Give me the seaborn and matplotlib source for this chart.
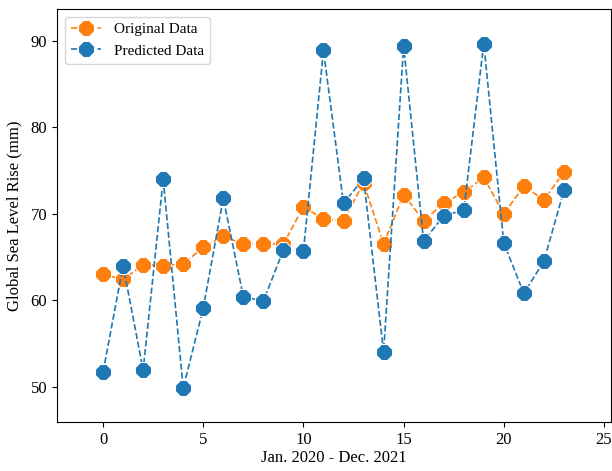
import matplotlib
matplotlib.use("Agg")
import matplotlib.pyplot as plt
import seaborn as sns
import numpy as np

months = list(range(24))
original = [63.0, 62.4, 64.1, 64.0, 64.2, 66.1, 67.4, 66.5, 66.5, 66.5,
            70.8, 69.4, 69.2, 73.6, 66.5, 72.2, 69.2, 71.2, 72.5, 74.2,
            70.0, 73.2, 71.6, 74.8]
predicted = [51.7, 64.0, 51.9, 74.0, 49.8, 59.1, 71.8, 60.4, 59.9, 65.8,
             65.7, 88.9, 71.2, 74.1, 54.0, 89.4, 66.8, 69.8, 70.4, 89.7,
             66.6, 60.8, 64.5, 72.7]

plt.rcParams['font.family'] = ['Liberation Serif', 'DejaVu Serif']
plt.rcParams['font.size'] = 12

fig = plt.figure(figsize=(6.12, 4.71), dpi=100)
ax = fig.add_axes([57/612, 1-422/471, (611-57)/612, (422-9)/471])

sns.lineplot(x=months, y=original, ax=ax, color='#ff7f0e', marker='8',
             markersize=12, linestyle='--', linewidth=1.2, label='Original Data')
sns.lineplot(x=months, y=predicted, ax=ax, color='#1f77b4', marker='8',
             markersize=12, linestyle='--', linewidth=1.2, label='Predicted Data')

ax.set_xlim(-2.3, 25.35)
ax.set_ylim(45.9, 93.7)
ax.set_xticks([0, 5, 10, 15, 20, 25])
ax.set_yticks([50, 60, 70, 80, 90])
ax.tick_params(labelsize=12)
ax.set_xlabel('Jan. 2020 - Dec. 2021', fontsize=12, labelpad=2)
ax.set_ylabel('Global Sea Level Rise (mm)', fontsize=12, labelpad=6)
ax.legend(loc='upper left', fontsize=11)

fig.savefig('out.png', dpi=100)
